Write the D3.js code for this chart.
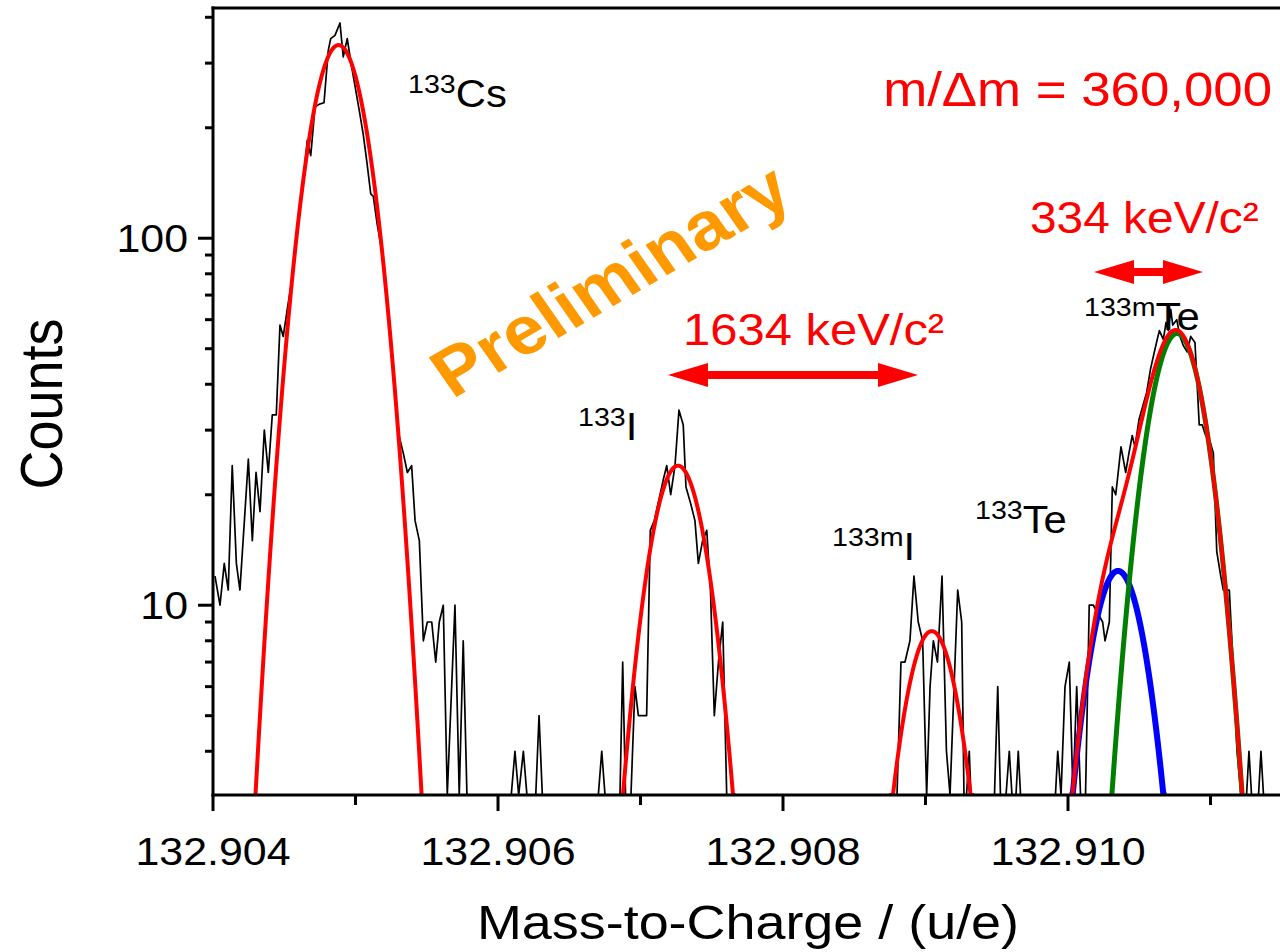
<!DOCTYPE html>
<html>
<head>
<meta charset="utf-8">
<script src="https://cdn.jsdelivr.net/npm/d3@7"></script>
<style>
  body { margin: 0; background: #fff; }
  svg { display: block; }
  text { font-family: Arial, "Liberation Sans", sans-serif; }
</style>
</head>
<body>
<svg id="chart" width="1280" height="952"></svg>
<script>
// measured spectrum (mass in u, counts per bin)
const massValues = [
  132.904014, 132.904049, 132.904079, 132.904107, 132.904135, 132.904164, 132.904189, 132.904248,
  132.904276, 132.904302, 132.904330, 132.904360, 132.904388, 132.904416, 132.904444, 132.904470,
  132.904493, 132.904521, 132.904549, 132.904578, 132.904606, 132.904634, 132.904662, 132.904686,
  132.904716, 132.904747, 132.904779, 132.904809, 132.904826, 132.904856, 132.904891, 132.904914,
  132.904942, 132.904973, 132.905004, 132.905029, 132.905055, 132.905081, 132.905107, 132.905125,
  132.905151, 132.905179, 132.905207, 132.905235, 132.905263, 132.905289, 132.905305, 132.905335,
  132.905364, 132.905394, 132.905418, 132.905448, 132.905476, 132.905504, 132.905535, 132.905563,
  132.905588, 132.905616, 132.905644, 132.905698, 132.905728, 132.905756, 132.905782,
  132.906093, 132.906119, 132.906145, 132.906178, 132.906203, 132.906265, 132.906288, 132.906311,
  132.906704, 132.906728, 132.906751, 132.906856, 132.906875, 132.906895, 132.906933, 132.906961,
  132.906985, 132.907043, 132.907069, 132.907097, 132.907137, 132.907160, 132.907184, 132.907212,
  132.907242, 132.907270, 132.907300, 132.907319, 132.907351, 132.907382, 132.907406, 132.907436,
  132.907465, 132.907491, 132.907518, 132.907547, 132.907577, 132.907605,
  132.908800, 132.908828, 132.908856, 132.908891, 132.908919, 132.908949, 132.908980, 132.909008,
  132.909032, 132.909055, 132.909084, 132.909116, 132.909147, 132.909172, 132.909226, 132.909254,
  132.909270, 132.909288, 132.909307, 132.909319, 132.909484, 132.909507, 132.909526, 132.909565,
  132.909588, 132.909607, 132.909635, 132.909651, 132.909667, 132.909912, 132.909928, 132.909951,
  132.909979, 132.910009, 132.910035, 132.910061, 132.910088, 132.910123, 132.910149, 132.910178,
  132.910243, 132.910260, 132.910290, 132.910311, 132.910335, 132.910372, 132.910405, 132.910428,
  132.910451, 132.910470, 132.910498, 132.910526, 132.910552, 132.910579, 132.910611, 132.910641,
  132.910669, 132.910688, 132.910704, 132.910721, 132.910735, 132.910763, 132.910786, 132.910809,
  132.910837, 132.910861, 132.910891, 132.910921, 132.910942, 132.910966, 132.910996, 132.911020,
  132.911044, 132.911072, 132.911090, 132.911114, 132.911132, 132.911158, 132.911186, 132.911214,
  132.911253, 132.911270, 132.911288, 132.911337, 132.911354, 132.911372, 132.911502
];
const countValues = [
  12, 10, 13, 11, 24, 13, 11, 25,
  15, 23, 18, 30, 23, 33, 33, 58,
  54, 64, 75, 95, 118, 145, 185, 168,
  228, 232, 234, 325, 350, 357, 386, 312,
  350, 293, 250, 220, 191, 160, 132, 130,
  110, 95, 78, 60, 45, 33, 29, 26,
  23, 24, 17, 15, 8, 9, 9, 7,
  9, 10, 0, 10, 0, 8, 0,
  0, 4, 0, 4, 0, 0, 5, 0,
  0, 4, 0, 0, 7, 0, 0, 6,
  5, 5, 16, 17, 20, 22, 24, 20,
  24, 34, 31, 21, 19, 17, 13, 15,
  16, 11, 5, 7, 9, 0,
  0, 7, 7, 8, 12, 9, 8, 0,
  6, 8, 7, 12, 4, 0, 11, 9,
  0, 0, 4, 0, 0, 6, 0, 0,
  4, 0, 0, 4, 0, 0, 4, 0,
  6, 7, 0, 6, 0, 0, 10, 10,
  9, 8, 9, 21, 20, 27, 23, 26,
  29, 27, 32, 35, 38, 44, 50, 56,
  53, 59, 56, 64, 58, 60, 54, 51,
  49, 54, 52, 31, 31, 29, 28, 26,
  14, 12, 11, 11, 11, 7, 4, 0,
  0, 4, 0, 0, 4, 0, 0
];

// gaussian fit parameters
const fitNames = ['133Cs', '133I', '133mI', '133Te', '133mTe'];
const fitCenters = [132.904881, 132.907263, 132.909044, 132.910351, 132.910765];
const fitAmplitudes = [336, 24, 8.5, 12.4, 55];
const fitSigma = 0.00019;

// axis ticks
const xMajorTicks = [132.904, 132.906, 132.908, 132.910];
const xMinorTicks = [132.905, 132.907, 132.909, 132.911];
const yMajorTicks = [10, 100];
const yMinorTicks = [4, 5, 6, 7, 8, 9, 20, 30, 40, 50, 60, 70, 80, 90, 200, 300, 400];

// the original figure is a bit wider than tall, text included
const SX = 1.1;

const svg = d3.select('#chart');

const x = d3.scaleLinear()
  .domain([132.904, 132.9115])
  .range([213, 1281.75]);

const y = d3.scaleLog()
  .domain([3.04, 424])
  .range([795, 8])
  .clamp(true);

svg.append('defs').append('clipPath').attr('id', 'plotclip')
  .append('rect').attr('x', 213).attr('y', 8).attr('width', 1070).attr('height', 787);

const plot = svg.append('g').attr('clip-path', 'url(#plotclip)');

const spectrum = d3.zip(massValues, countValues);
const dataLine = d3.line()
  .x(d => x(d[0]))
  .y(d => y(Math.max(d[1], 1)));

plot.append('path')
  .datum(spectrum)
  .attr('fill', 'none')
  .attr('stroke', '#000')
  .attr('stroke-width', 1.7)
  .attr('stroke-linejoin', 'round')
  .attr('d', dataLine);

const gauss = (m, i) => fitAmplitudes[i] * Math.exp(-((m - fitCenters[i]) ** 2) / (2 * fitSigma * fitSigma));
const grid = d3.range(132.9038, 132.9116, 0.000001);

const curve = fn => d3.line()
  .x(m => x(m))
  .y(m => y(Math.max(fn(m), 1)))
  .defined(m => fn(m) > 2.5)(grid);

// component fits of the Te doublet
plot.append('path').attr('d', curve(m => gauss(m, 3)))
  .attr('fill', 'none').attr('stroke', '#0000ff').attr('stroke-width', 6);
plot.append('path').attr('d', curve(m => gauss(m, 4)))
  .attr('fill', 'none').attr('stroke', '#008000').attr('stroke-width', 5);

// total fits
[0, 1, 2].forEach(i => {
  plot.append('path').attr('d', curve(m => gauss(m, i)))
    .attr('fill', 'none').attr('stroke', '#ff0000').attr('stroke-width', 4);
});
plot.append('path').attr('d', curve(m => gauss(m, 3) + gauss(m, 4)))
  .attr('fill', 'none').attr('stroke', '#ff0000').attr('stroke-width', 4);

// text helper, stretched horizontally like the source
const label = (tx, ty, size, anchor) => svg.append('text')
  .attr('transform', `translate(${tx},${ty}) scale(${SX},1)`)
  .attr('text-anchor', anchor || 'start')
  .attr('font-size', size);

// axes
const axisG = svg.append('g').attr('stroke', '#000').attr('stroke-width', 3);
axisG.append('line').attr('x1', 213).attr('x2', 213).attr('y1', 6.5).attr('y2', 796.5);
axisG.append('line').attr('x1', 211.5).attr('x2', 1280).attr('y1', 795).attr('y2', 795);
axisG.append('line').attr('x1', 211.5).attr('x2', 1280).attr('y1', 8).attr('y2', 8);

yMajorTicks.forEach(v => {
  axisG.append('line').attr('x1', 198).attr('x2', 213).attr('y1', y(v)).attr('y2', y(v));
  label(188, y(v) + 14, 39, 'end').text(v);
});
yMinorTicks.forEach(v => {
  axisG.append('line').attr('x1', 205).attr('x2', 213).attr('y1', y(v)).attr('y2', y(v));
});
xMajorTicks.forEach(v => {
  axisG.append('line').attr('x1', x(v)).attr('x2', x(v)).attr('y1', 795).attr('y2', 811);
  label(x(v), 865, 39, 'middle').text(d3.format('.3f')(v));
});
xMinorTicks.forEach(v => {
  axisG.append('line').attr('x1', x(v)).attr('x2', x(v)).attr('y1', 795).attr('y2', 805);
});

label(748, 939, 49, 'middle').text('Mass-to-Charge / (u/e)');
svg.append('text').attr('transform', `translate(62,404) scale(${SX},1) rotate(-90)`)
  .attr('text-anchor', 'middle').attr('font-size', 54).text('Counts');

// peak labels
const isoLabels = [
  { sup: '133', el: 'Cs', x: 408, y: 107 },
  { sup: '133', el: 'I', x: 578, y: 440 },
  { sup: '133m', el: 'I', x: 832, y: 560 },
  { sup: '133', el: 'Te', x: 975, y: 533 },
  { sup: '133m', el: 'Te', x: 1084, y: 330 }
];
isoLabels.forEach(l => {
  const t = label(l.x, l.y, 38);
  t.append('tspan').attr('font-size', 26).attr('dy', -14).text(l.sup);
  t.append('tspan').attr('font-size', 38).attr('dy', 14).text(l.el);
});

label(1272, 106, 48, 'end').attr('fill', '#ff0000').text('m/\u0394m = 360,000');
label(683, 345, 44.5).attr('fill', '#ff0000').text('1634 keV/c\u00b2');
label(1030, 233, 43.5).attr('fill', '#ff0000').text('334 keV/c\u00b2');

svg.append('text').attr('transform', `translate(624,300) scale(${SX},1) rotate(-32.5)`)
  .attr('text-anchor', 'middle').attr('font-size', 68).attr('font-weight', 'bold')
  .attr('fill', '#ff9900').text('Preliminary');

// double arrows
const arrow = (x1, x2, yy) => {
  const hl = 40, hw = 12, sw = 4;
  const pts = [[x1, yy], [x1 + hl, yy - hw], [x1 + hl, yy - sw], [x2 - hl, yy - sw], [x2 - hl, yy - hw],
    [x2, yy], [x2 - hl, yy + hw], [x2 - hl, yy + sw], [x1 + hl, yy + sw], [x1 + hl, yy + hw]];
  svg.append('polygon').attr('points', pts.map(p => p.join(',')).join(' ')).attr('fill', '#ff0000');
};
arrow(668, 918, 375);
arrow(1094, 1203, 272);
</script>
</body>
</html>
